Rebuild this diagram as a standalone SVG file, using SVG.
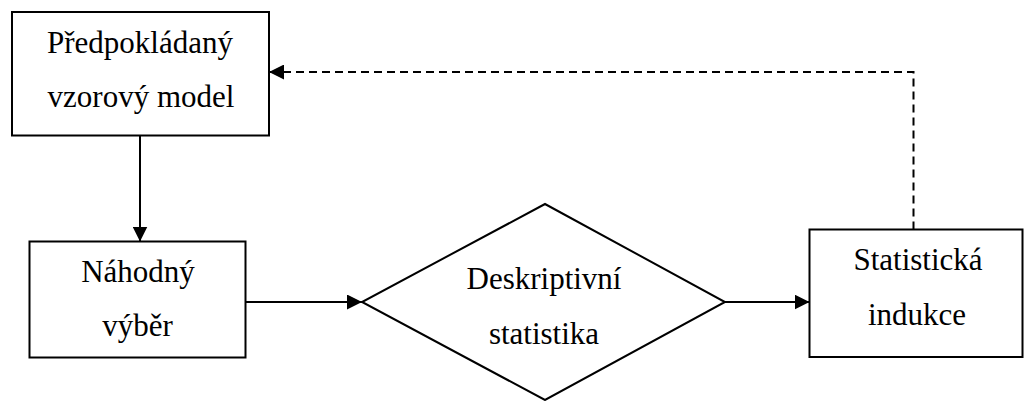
<svg xmlns="http://www.w3.org/2000/svg" width="1025" height="401" viewBox="0 0 1025 401">
<style>
.box{fill:#fff;stroke:#000;stroke-width:2}
.t{font-family:"Liberation Serif","Times New Roman",serif;font-size:31px;fill:#000;text-anchor:middle}
.c{fill:none;stroke:#000;stroke-width:2}
.d{fill:none;stroke:#000;stroke-width:2;stroke-dasharray:8,5}
</style>
<defs>
<marker id="ah" markerUnits="userSpaceOnUse" markerWidth="15" markerHeight="15" refX="15" refY="7.5" orient="auto">
<path d="M0,0 L15,7.5 L0,15 z" fill="#000" stroke="none"/>
</marker>
</defs>
<rect width="1025" height="401" fill="#fff"/>
<g id="model">
<rect class="box" x="12" y="12" width="257" height="123.5"/>
<text class="t" x="140" y="53">Předpokládaný</text>
<text class="t" x="141" y="106.5">vzorový model</text>
</g>
<g id="vyber">
<rect class="box" x="29.5" y="241.5" width="216" height="116"/>
<text class="t" x="138" y="281.5">Náhodný</text>
<text class="t" x="137.5" y="336">výběr</text>
</g>
<g id="deskriptivni">
<polygon class="box" points="545,204 725,302 545,400 362,302"/>
<text class="t" x="544" y="288.5">Deskriptivní</text>
<text class="t" x="544" y="343.5">statistika</text>
</g>
<g id="indukce">
<rect class="box" x="809.5" y="229.5" width="213" height="127.5"/>
<text class="t" x="918" y="270">Statistická</text>
<text class="t" x="917" y="325">indukce</text>
</g>
<g id="connectors">
<line class="c" x1="140" y1="135.5" x2="140" y2="241.5" marker-end="url(#ah)"/>
<line class="c" x1="245.5" y1="302" x2="362" y2="302" marker-end="url(#ah)"/>
<line class="c" x1="725" y1="302" x2="809.5" y2="302" marker-end="url(#ah)"/>
<polyline class="d" points="913.5,229.5 913.5,72 269,72" marker-end="url(#ah)"/>
</g>
</svg>
